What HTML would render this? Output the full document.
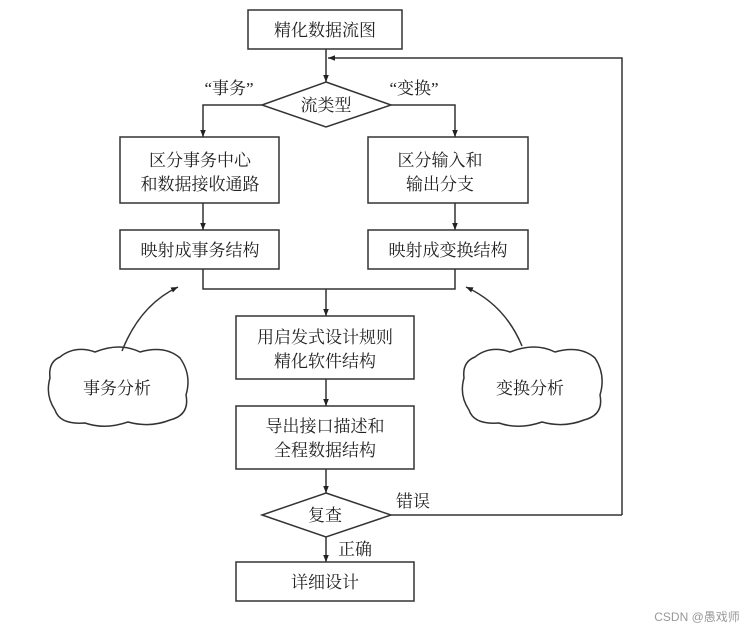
<!DOCTYPE html>
<html><head><meta charset="utf-8"><style>
html,body{margin:0;padding:0;background:#fff;}
svg text{font-family:"Liberation Serif","Noto Serif CJK SC","Noto Sans CJK SC",serif;fill:#222;}
</style></head><body>
<svg width="745" height="630" viewBox="0 0 745 630" xmlns="http://www.w3.org/2000/svg">
<defs><marker id="a" viewBox="0 0 10 10" refX="10" refY="5" markerWidth="7" markerHeight="9" orient="auto" markerUnits="userSpaceOnUse"><path d="M0,1 L10,5 L0,9 z" fill="#222"/></marker></defs>
<g stroke="#333" stroke-width="1.5" fill="none">
<rect x="248" y="10" width="154" height="39"/>
<line x1="326" y1="49" x2="326" y2="82" marker-end="url(#a)"/>
<polyline points="622,515 622,58 328,58" marker-end="url(#a)"/>
<polygon points="326,82 391,105 326,127 262,105"/>
<polyline points="262,105 203,105 203,137" marker-end="url(#a)"/>
<polyline points="391,105 455,105 455,137" marker-end="url(#a)"/>
<rect x="120" y="137" width="159" height="66"/>
<rect x="368" y="137" width="160" height="66"/>
<line x1="203" y1="203" x2="203" y2="230" marker-end="url(#a)"/>
<line x1="455" y1="203" x2="455" y2="230" marker-end="url(#a)"/>
<rect x="120" y="230" width="159" height="39"/>
<rect x="368" y="230" width="160" height="39"/>
<polyline points="203,269 203,289 455,289 455,269"/>
<line x1="326" y1="289" x2="326" y2="316" marker-end="url(#a)"/>
<rect x="236" y="316" width="178" height="63"/>
<line x1="326" y1="379" x2="326" y2="406" marker-end="url(#a)"/>
<rect x="236" y="406" width="178" height="63"/>
<line x1="326" y1="469" x2="326" y2="493" marker-end="url(#a)"/>
<polygon points="326,493 391,515 326,537 262,515"/>
<line x1="391" y1="515" x2="622" y2="515"/>
<line x1="326" y1="537" x2="326" y2="562" marker-end="url(#a)"/>
<rect x="236" y="562" width="178" height="39"/>
<path d="M122,351 Q140,305 178,287" marker-end="url(#a)"/>
<path d="M522,346 Q505,305 466,287" marker-end="url(#a)"/>
<path d="M60,357 Q75,345 95,352 Q120,342 140,352 Q165,345 180,358 Q192,375 186,395 Q190,415 170,420 Q150,428 128,422 Q105,430 85,423 Q60,425 55,410 Q45,395 50,378 Q48,362 60,357 Z"/>
<path d="M475,357 Q490,345 510,352 Q535,342 555,352 Q580,345 595,358 Q606,375 600,395 Q604,415 584,420 Q564,428 542,422 Q519,430 499,423 Q474,425 469,410 Q459,395 464,378 Q462,362 475,357 Z"/>
</g>
<g font-size="17" text-anchor="middle">
<text x="325" y="36">精化数据流图</text>
<text x="326" y="111">流类型</text>
<text x="229" y="94">“事务”</text>
<text x="414" y="94">“变换”</text>
<text x="200" y="166">区分事务中心</text>
<text x="200" y="190">和数据接收通路</text>
<text x="440" y="166">区分输入和</text>
<text x="440" y="190">输出分支</text>
<text x="200" y="256">映射成事务结构</text>
<text x="448" y="256">映射成变换结构</text>
<text x="325" y="343">用启发式设计规则</text>
<text x="325" y="367">精化软件结构</text>
<text x="325" y="432">导出接口描述和</text>
<text x="325" y="456">全程数据结构</text>
<text x="325" y="521">复查</text>
<text x="413" y="507">错误</text>
<text x="355" y="555">正确</text>
<text x="325" y="588">详细设计</text>
<text x="117" y="394">事务分析</text>
<text x="530" y="394">变换分析</text>
</g>
<text x="697" y="621" font-size="12" text-anchor="middle" style="fill:#999;font-family:'Liberation Sans','Noto Sans CJK SC',sans-serif">CSDN @愚戏师</text>
</svg>
</body></html>
